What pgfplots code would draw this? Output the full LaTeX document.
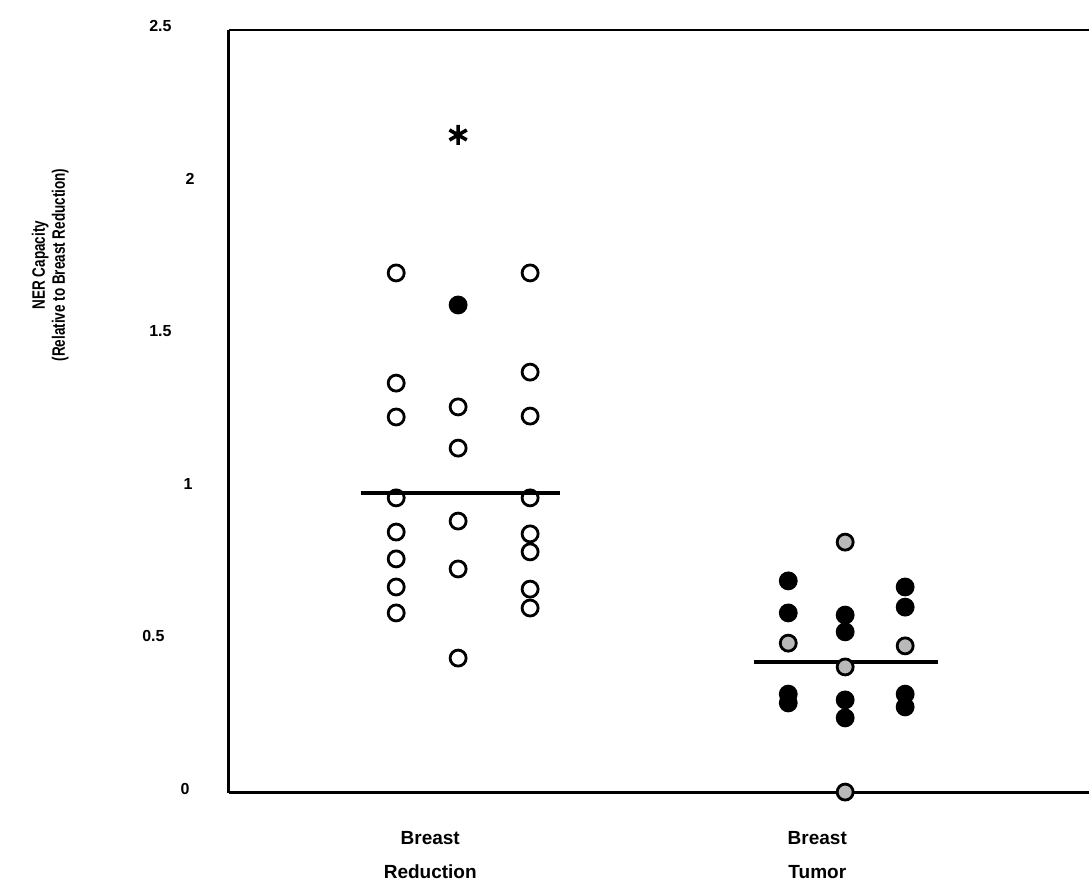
\documentclass[border=0pt]{standalone}
\usepackage{pgfplots}
\pgfplotsset{compat=1.18}
\usepackage{fontspec}
\setmainfont{Liberation Sans}
\newfontfamily\narrowfont[FakeStretch=0.75]{Liberation Sans Bold}

\begin{document}
\begin{tikzpicture}
\begin{axis}[
    at={(0,0)}, anchor=south west,
    scale only axis,
    width=430pt, height=381.5pt,
    xmin=0.408, xmax=2.630,
    ymin=0, ymax=2.5,
    clip=false,
    axis lines=left,
    axis line style={-, line width=1.5pt},
    major tick length=0pt,
    xtick={0.928,1.928},
    xticklabels={{Breast\\[6pt]Reduction},{Breast\\[6pt]Tumor}},
    xticklabel style={font=\fontsize{9.5}{11}\selectfont\bfseries, align=center,
        inner sep=0pt, anchor=north, yshift=-19pt},
    ytick={0,0.5,1,1.5,2,2.5},
    yticklabels={{0\kern2.5pt},{0.5\kern15pt},{1\kern1pt},
        {1.5\kern11.5pt},{2},{2.5\kern11.5pt}},
    yticklabel style={font=\fontsize{8}{9}\selectfont\bfseries, inner sep=0pt,
        anchor=east, xshift=-17pt, yshift=2pt},
    ylabel={NER Capacity\\(Relative to Breast Reduction)},
    ylabel style={font=\narrowfont\fontsize{9}{10}\selectfont, align=center,
        at={(rel axis cs:-0.208,0.692)}, anchor=center},
]
% Breast Reduction, open circles
\addplot[only marks, mark=o, mark size=4pt, line width=1.4pt, black] coordinates {
    (0.840,1.704) (0.840,1.343) (0.840,1.232) (0.840,0.967) (0.840,0.855)
    (0.840,0.767) (0.840,0.675) (0.840,0.590)
    (1.000,1.265) (1.000,1.130) (1.000,0.891) (1.000,0.734) (1.000,0.442)
    (1.186,1.704) (1.186,1.379) (1.186,1.235) (1.186,0.967) (1.186,0.849)
    (1.186,0.790) (1.186,0.668) (1.186,0.606)
};
% Breast Reduction, filled circle
\addplot[only marks, mark=*, mark size=4pt, line width=1.4pt, black] coordinates {
    (1.000,1.599)
};
% outlier
\addplot[only marks, mark=asterisk, mark size=5pt, line width=1.8pt, black] coordinates {
    (1.000,2.156)
};
% Breast Tumor, filled black circles
\addplot[only marks, mark=*, mark size=4pt, line width=1.4pt, black] coordinates {
    (1.853,0.695) (1.853,0.590) (1.853,0.324) (1.853,0.295)
    (2.000,0.583) (2.000,0.528) (2.000,0.305) (2.000,0.246)
    (2.155,0.675) (2.155,0.609) (2.155,0.324) (2.155,0.282)
};
% Breast Tumor, grey circles
\addplot[only marks, mark=*, mark size=4pt, line width=1.4pt, draw=black,
    mark options={fill=gray!55}] coordinates {
    (1.853,0.491) (2.000,0.822) (2.000,0.413) (2.155,0.482) (2.000,0.003)
};
% means
\addplot[black, line width=2pt] coordinates {(0.749,0.983) (1.264,0.983)};
\addplot[black, line width=2pt] coordinates {(1.765,0.429) (2.240,0.429)};
\draw[line width=1pt] (rel axis cs:0,1) -- (rel axis cs:1,1);
\end{axis}
\pgfresetboundingbox
\path (-114.5pt,-50.5pt) rectangle (430pt,396.5pt);
\end{tikzpicture}
\end{document}
